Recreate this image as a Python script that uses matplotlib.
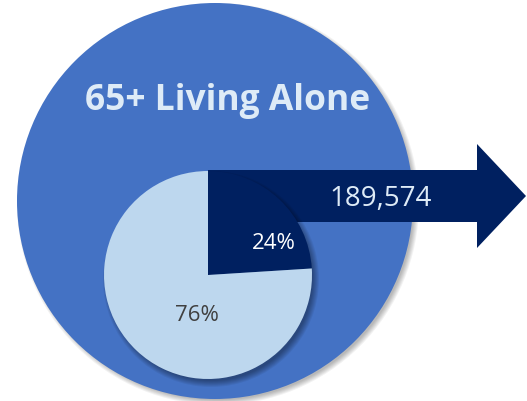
import matplotlib.pyplot as plt
from matplotlib.patches import Circle, Polygon

# Dane
title = "65+ Living Alone"
shares = [24, 76]
share_labels = ["24%", "76%"]
count_label = "189,574"

# Kolory
big_blue = "#4472C4"
light_blue = "#BDD7EE"
navy = "#002060"
text_light = "#DEEBF7"

W, H = 527, 402
fig = plt.figure(figsize=(W / 100, H / 100), dpi=100)
ax = fig.add_axes([0, 0, 1, 1])
ax.set_xlim(0, W)
ax.set_ylim(0, H)
ax.set_aspect("equal")
ax.axis("off")

# Duze kolo (z cieniem)
big_c = (215, H - 202)
big_r = 198
for i in range(6):
    ax.add_patch(Circle((big_c[0] + 3, big_c[1] - 3), big_r + 3 - i, color="black",
                        alpha=0.05, lw=0, zorder=1))
ax.add_patch(Circle(big_c, big_r, color=big_blue, lw=0, zorder=2))

# Strzalka od srodka pie w prawo
pie_c = (208, H - 276)
pie_r = 104
body_top, body_bot = H - 171, H - 223
head_x, head_top, head_bot, tip_x = 477, H - 145, H - 249, 526
arrow = Polygon([(pie_c[0], body_top), (head_x, body_top), (head_x, head_top),
                 (tip_x, (head_top + head_bot) / 2), (head_x, head_bot),
                 (head_x, body_bot), (pie_c[0], body_bot)],
                closed=True, color=navy, lw=0, zorder=3)
ax.add_patch(arrow)

# Cien pod pie
for i in range(7):
    ax.add_patch(Circle((pie_c[0] + 3, pie_c[1] - 4), pie_r + 4 - i, color="black",
                        alpha=0.06, lw=0, zorder=4))

wedges, _ = ax.pie(shares, colors=[navy, light_blue], startangle=90,
                   counterclock=False, center=pie_c, radius=pie_r,
                   wedgeprops=dict(linewidth=0), frame=True)
for w in wedges:
    w.set_zorder(5)
ax.set_xlim(0, W)
ax.set_ylim(0, H)
ax.axis("off")

font = ["Open Sans", "DejaVu Sans"]
ax.text(228, H - 101, title, ha="center", va="center", fontsize=25.5,
        fontweight="bold", color=text_light, family=font, zorder=6)
ax.text(381, H - 199, count_label, ha="center", va="center", fontsize=20,
        color=text_light, family=font, zorder=6)
ax.text(274, H - 244, share_labels[0], ha="center", va="center", fontsize=16,
        color="white", family=font, zorder=6)
ax.text(197, H - 316, share_labels[1], ha="center", va="center", fontsize=16,
        color="#404040", family=font, zorder=6)

fig.savefig("out.png", dpi=100)
